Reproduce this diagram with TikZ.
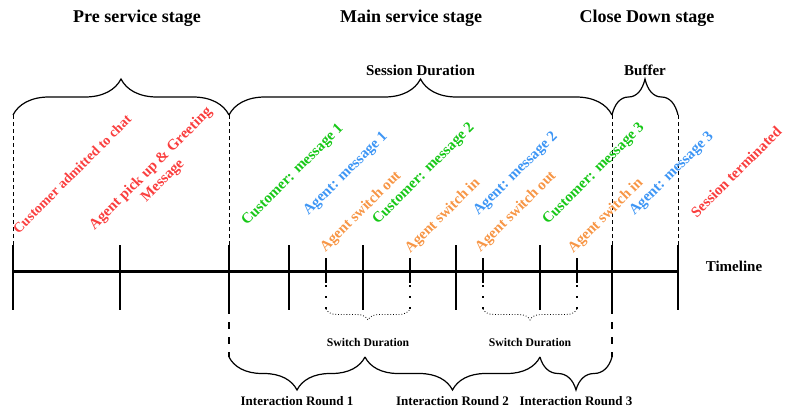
\documentclass[tikz,border=0pt]{standalone}
\usepackage{fontspec}
\setmainfont{Liberation Serif}
\usetikzlibrary{positioning, decorations.pathreplacing}
\definecolor{evred}{RGB}{250,62,62}
\definecolor{evgreen}{RGB}{24,200,24}
\definecolor{evblue}{RGB}{62,150,245}
\definecolor{evorange}{RGB}{247,150,70}

\begin{document}
\begin{tikzpicture}[x=1pt, y=-1pt,
    stage/.style={font=\fontsize{18}{20}\selectfont\bfseries},
    span/.style={font=\fontsize{15}{17}\selectfont\bfseries},
    event/.style={rotate=45, font=\fontsize{15}{17}\selectfont\bfseries, inner sep=0pt, align=center},
    swlabel/.style={font=\fontsize{11.7}{13}\selectfont\bfseries},
    roundlabel/.style={font=\fontsize{13}{15}\selectfont\bfseries},
    tick/.style={line width=1.2pt},
    guide/.style={line width=0.9pt, dash pattern=on 4pt off 3pt},
    heavydash/.style={line width=2.4pt, dash pattern=on 7pt off 8pt},
    swdots/.style={line width=2pt, dash pattern=on 2pt off 9pt},
    topbrace/.style={decorate, decoration={brace, amplitude=36pt}, line width=1.2pt},
    lowbrace/.style={decorate, decoration={brace, mirror, amplitude=33pt}, line width=1.2pt},
    swbrace/.style={decorate, decoration={brace, mirror, amplitude=11pt}, line width=0.8pt, dotted}]
    \useasboundingbox (0,0) rectangle (785,412);

    %Timeline
    \foreach \name/\x in {t0/13, t1/120, t2/229, t3/289, t4/363, t5/456, t6/540, t7/612, t8/678}
        \coordinate (\name) at (\x,271);
    \foreach \name/\x in {s1/326, s2/410, s3/483, s4/577}
        \coordinate (\name) at (\x,271);
    \draw[line width=3pt] (t0) -- (t8);
    \node[span] (timeline) at (734,266) {Timeline};

    \foreach \i in {0,...,8}
        \draw[tick] (t\i) ++(0,-26) -- ++(0,65);
    \foreach \i in {1,...,4}{
        \draw[tick] (s\i) ++(0,-13) -- ++(0,25);
        \draw[swdots] (s\i) ++(0,14) -- ++(0,24) coordinate (d\i);
    }

    %Upper spans
    \foreach \i in {0,2,7,8}
        \draw[guide] (t\i) ++(0,-26) -- ++(0,-130) coordinate (u\i);
    \draw[topbrace] (u0) -- (u2);
    \draw[topbrace] (u2) -- (u7);
    \draw[topbrace] (u7) -- (u8);
    \path (u2) -- (u7) node[midway, above=36pt, span] (session) {Session Duration};
    \path (u7) -- (u8) node[midway, above=36pt, span] (buffer) {Buffer};

    \node[stage] (pre) at (137,18) {Pre service stage};
    \node[stage] (main) at (411,18) {Main service stage};
    \node[stage] (close) at (647,18) {Close Down stage};

    %Lower spans
    \draw[heavydash] (t2) ++(0,36) -- ++(0,50) coordinate (r0);
    \draw[heavydash] (t7) ++(0,36) -- ++(0,50) coordinate (r3);
    \coordinate (r1) at (365,357);
    \coordinate (r2) at (540,357);
    \draw[lowbrace] (r0) -- (r1);
    \draw[lowbrace] (r1) -- (r2);
    \draw[lowbrace] (r2) -- (r3);
    \path (r0) -- (r1) node[midway, below=36pt, roundlabel] (round1) {Interaction Round 1};
    \path (r1) -- (r2) node[midway, below=36pt, roundlabel] (round2) {Interaction Round 2};
    \path (r2) -- (r3) node[midway, below=36pt, roundlabel] (round3) {Interaction Round 3};

    \draw[swbrace] (d1) -- (d2);
    \draw[swbrace] (d3) -- (d4);
    \path (d1) -- (d2) node[midway, below=26pt, swlabel] (switch1) {Switch Duration};
    \path (d3) -- (d4) node[midway, below=26pt, swlabel] (switch2) {Switch Duration};

    %Events
    \node[event, text=evred, font=\fontsize{14}{16}\selectfont\bfseries] (admit) at (72,174) {Customer admitted to chat};
    \node[event, text=evred] (pickup) at (157,175) {Agent pick up \& Greeting\\Message};
    \node[event, text=evgreen] (cust1) at (293,175) {Customer: message 1};
    \node[event, text=evblue] (agent1) at (346,174) {Agent: message 1};
    \node[event, text=evorange] (out1) at (361,212) {Agent switch out};
    \node[event, text=evgreen] (cust2) at (424,174) {Customer: message 2};
    \node[event, text=evorange] (in1) at (443,216) {Agent switch in};
    \node[event, text=evblue] (agent2) at (516,174) {Agent: message 2};
    \node[event, text=evorange] (out2) at (516,212) {Agent switch out};
    \node[event, text=evgreen] (cust3) at (594,174) {Customer: message 3};
    \node[event, text=evorange] (in2) at (606,216) {Agent switch in};
    \node[event, text=evblue] (agent3) at (672,174) {Agent: message 3};
    \node[event, text=evred] (closed) at (736,172) {Session terminated};

\end{tikzpicture}
\end{document}
